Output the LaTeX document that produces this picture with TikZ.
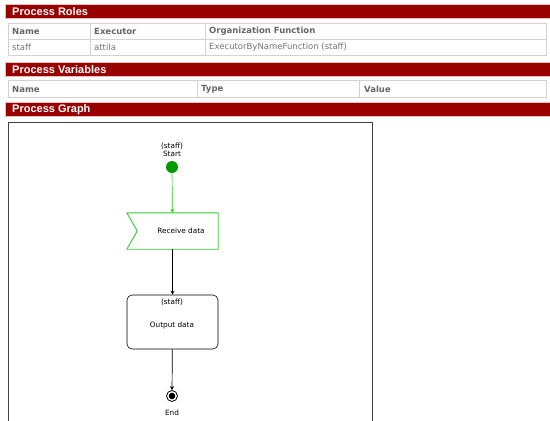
\documentclass[tikz,border=0pt]{standalone}
\usepackage{fontspec}
\setmainfont{DejaVu Sans}
\newfontfamily\hdrfont{Liberation Sans}
\usetikzlibrary{positioning,arrows.meta}
\definecolor{hdrred}{HTML}{990000}
\definecolor{flowgreen}{HTML}{33CC33}
\definecolor{startgreen}{HTML}{009900}
\begin{document}
\begin{tikzpicture}[x=1pt,y=-1pt,line join=round,>={Stealth[length=4pt,width=4pt]}]
	\tikzset{hdrbar/.style={fill=hdrred,draw=hdrred!25,line width=.6pt},
		hdrtext/.style={anchor=west,text=white,inner sep=0pt,font=\hdrfont\fontsize{11}{12}\selectfont\bfseries},
		grid/.style={draw=gray!35,line width=1pt},
		cellhead/.style={anchor=west,inner sep=0pt,text=black!60,font=\fontsize{8.5}{10}\selectfont\bfseries},
		cell/.style={anchor=west,inner sep=0pt,text=black!55,font=\fontsize{8.5}{10}\selectfont},
		gtext/.style={inner sep=0pt,font=\fontsize{7.3}{8.3}\selectfont},
		flow/.style={->,line width=.7pt}}
	\useasboundingbox[fill=white] (0,0) rectangle (550,421);
	% section headers
	\foreach \y/\t [count=\i] in {4/Process Roles,62/Process Variables,102/Process Graph}{
		\draw[hdrbar] (5,\y) rectangle (550,\y+14.5);
		\node[hdrtext] (hdr\i) at (12,\y+7.5) {\t};
	}
	% roles table
	\draw[grid] (8,23) rectangle (546,55) (8,39)--(546,39) (90,23)--(90,55) (205,23)--(205,55);
	\node[cellhead] (rname) at (12,31.5) {Name};
	\node[cellhead] (rexec) at (94,31.5) {Executor};
	\node[cellhead] (rfunc) at (209,31.5) {Organization Function};
	\node[cell] (rstaff) at (12,47.5) {staff};
	\node[cell] (rattila) at (94,47.5) {attila};
	\node[cell] (rbyname) at (209,47.5) {ExecutorByNameFunction (staff)};
	% variables table
	\draw[grid] (8,80) rectangle (546,97) (197,80)--(197,97) (359,80)--(359,97);
	\node[cellhead] (vname) at (12,89) {Name};
	\node[cellhead] (vtype) at (201,89) {Type};
	\node[cellhead] (vvalue) at (364,89) {Value};
	% graph
	\draw[black!75,line width=.8pt] (8,421)|-(372,122)--(372,421);
	\node[gtext,align=center] (startlbl) at (172,149.5) {(staff)\\Start};
	\node[circle,fill=startgreen,minimum size=12pt,inner sep=0pt] (start) at (172,167) {};
	\node[minimum width=91pt,minimum height=36pt,inner sep=0pt] (recv) at (172.5,231) {};
	\draw[flowgreen,line width=.9pt] (recv.north west)--(recv.north east)--(recv.south east)
		--(recv.south west)--([xshift=10.5pt]recv.west)--cycle;
	\node[gtext] (recvtxt) at (181,231) {Receive data};
	\node[draw,rounded corners=5pt,line width=.6pt,minimum width=91pt,minimum height=54pt] (out) at (172.5,322) {};
	\node[gtext] (outrole) at (172,302) {(staff)};
	\node[gtext] (outtxt) at (172,325) {Output data};
	\node[circle,draw,line width=.8pt,minimum size=11pt,inner sep=0pt] (end) at (172,396) {};
	\fill (end) circle (3.3pt);
	\node[gtext] (endlbl) at (172,413) {End};
	\draw[flow,flowgreen] (start)--(recv);
	\draw[flow] (recv)--(out);
	\draw[flow] (out)--(end);
\end{tikzpicture}
\end{document}
